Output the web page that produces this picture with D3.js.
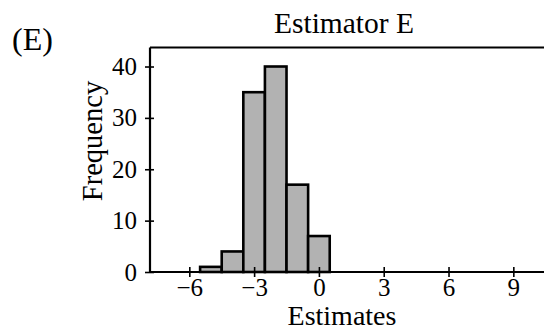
<!DOCTYPE html>
<html>
<head>
<meta charset="utf-8">
<script src="https://cdn.jsdelivr.net/npm/d3@7"></script>
<style>
  body { margin: 0; background: #fff; }
</style>
</head>
<body>
<div id="chart"></div>
<script>
// histogram bins (left edge, right edge) and counts
var binStarts = [-5.5, -4.5, -3.5, -2.5, -1.5, -0.5];
var binEnds = [-4.5, -3.5, -2.5, -1.5, -0.5, 0.5];
var counts = [1, 4, 35, 40, 17, 7];
var xTicks = [-6, -3, 0, 3, 6, 9];
var yTicks = [0, 10, 20, 30, 40];

var width = 544, height = 330;
var plot = {left: 150, right: 544, top: 47.5, bottom: 272};
var serif = '"Liberation Serif", "Times New Roman", serif';

var svg = d3.select("#chart").append("svg")
    .attr("width", width)
    .attr("height", height);

var xScale = d3.scaleLinear().domain([-7.82, 10.42]).range([plot.left, plot.right]);
var yScale = d3.scaleLinear().domain([0, 43.7]).range([plot.bottom, plot.top]);

var bins = counts.map(function(c, i) {
    return {x0: binStarts[i], x1: binEnds[i], n: c};
});

svg.selectAll(".bar").data(bins).enter().append("rect")
    .attr("class", "bar")
    .attr("x", function(d) { return xScale(d.x0); })
    .attr("y", function(d) { return yScale(d.n); })
    .attr("width", function(d) { return xScale(d.x1) - xScale(d.x0); })
    .attr("height", function(d) { return yScale(0) - yScale(d.n); })
    .attr("fill", "#b2b2b2")
    .attr("stroke", "#000")
    .attr("stroke-width", 2.6);

// top border line
svg.append("line")
    .attr("x1", plot.left).attr("x2", plot.right)
    .attr("y1", plot.top).attr("y2", plot.top)
    .attr("stroke", "#000").attr("stroke-width", 2.2);

var xAxis = d3.axisBottom(xScale).tickValues(xTicks).tickSize(0).tickPadding(8);
var gx = svg.append("g")
    .attr("transform", "translate(0," + plot.bottom + ")")
    .call(xAxis);
gx.select(".domain").attr("stroke-width", 2.2).attr("d", "M" + plot.left + ",0H" + plot.right);
gx.selectAll(".tick line").attr("y1", -5).attr("y2", 5).attr("stroke-width", 1.6);
gx.selectAll(".tick text")
    .style("font-family", serif)
    .style("font-size", "25px")
    .attr("dy", "0.62em");

var yAxis = d3.axisLeft(yScale).tickValues(yTicks).tickSize(0).tickPadding(13);
var gy = svg.append("g")
    .attr("transform", "translate(" + plot.left + ",0)")
    .call(yAxis);
gy.select(".domain").attr("stroke-width", 2.2).attr("d", "M0," + plot.top + "V" + plot.bottom);
gy.selectAll(".tick line").attr("x1", -5).attr("x2", 4).attr("stroke-width", 1.6);
gy.selectAll(".tick text")
    .style("font-family", serif)
    .style("font-size", "25px");

function label(x, y, size, txt, anchor) {
    return svg.append("text")
        .attr("x", x).attr("y", y)
        .style("font-family", serif)
        .style("font-size", size + "px")
        .style("text-anchor", anchor || "middle")
        .text(txt);
}

// title and panel label
label(344, 33, 29.5, "Estimator E");
label(12, 50, 32, "(E)", "start");

// axis labels
label(342, 325, 28, "Estimates");
label(0, 0, 28.5, "Frequency")
    .attr("transform", "translate(102,141) rotate(-90)");
</script>
</body>
</html>
